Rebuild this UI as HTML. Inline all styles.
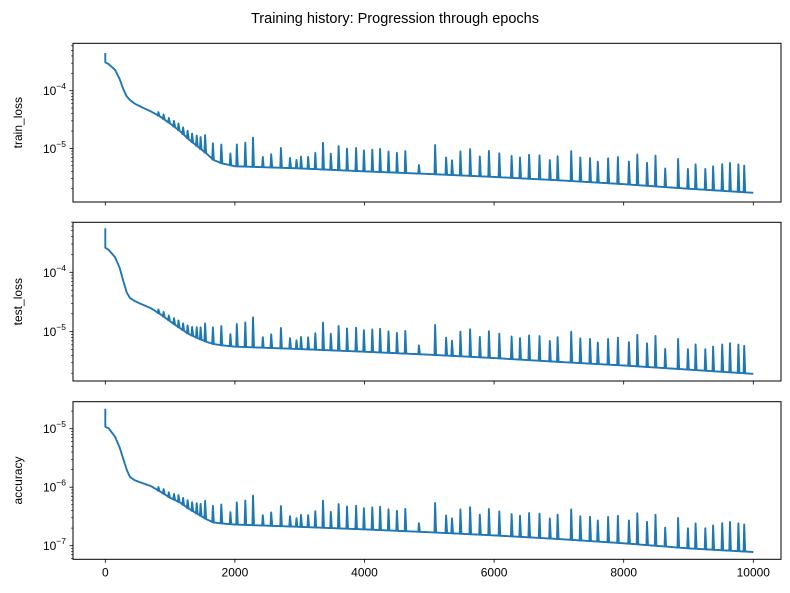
<!DOCTYPE html>
<html><head><meta charset="utf-8"><style>
body{margin:0;background:#fff;}
svg{display:block;font-family:"Liberation Sans",sans-serif;}
</style></head><body>
<svg id="chart" width="790" height="593" viewBox="0 0 790 593">
<text x="395" y="23" text-anchor="middle" font-size="14.5">Training history: Progression through epochs</text>
</svg>
<script>
const baseEpochs = [0,50,150,220,280,330,380,450,530,700,840,1000,1150,1300,1460,1570,1670,1800,2000,3000,4000,5000,6000,7000,8000,9000,10000];
const trainBase = [3.1e-4,2.9e-4,2.3e-4,1.6e-4,1.05e-4,8e-5,6.9e-5,6e-5,5.4e-5,4.4e-5,3.6e-5,2.7e-5,2e-5,1.4e-5,1e-5,8e-6,6.3e-6,5.5e-6,4.9e-6,4.5e-6,4e-6,3.6e-6,3.2e-6,2.8e-6,2.4e-6,2e-6,1.7e-6];
const testBase = [2.6e-4,2.4e-4,1.8e-4,1.2e-4,7e-5,4.6e-5,3.7e-5,3.3e-5,3e-5,2.5e-5,2e-5,1.5e-5,1.15e-5,9e-6,7.5e-6,6.7e-6,6.2e-6,5.9e-6,5.6e-6,5.1e-6,4.6e-6,4.1e-6,3.6e-6,3.1e-6,2.7e-6,2.3e-6,1.95e-6];
const accBase = [1.08e-5,1.02e-5,7.3e-6,4.8e-6,3.0e-6,2.0e-6,1.5e-6,1.32e-6,1.22e-6,1.05e-6,8.5e-7,6.6e-7,5.5e-7,4.2e-7,3.3e-7,2.8e-7,2.5e-7,2.4e-7,2.3e-7,2.1e-7,1.9e-7,1.7e-7,1.5e-7,1.3e-7,1.1e-7,9e-8,7.8e-8];
const initialPeaks = [4.5e-4,5.5e-4,2.2e-5];
const spikeEpochs = [820,900,980,1060,1130,1200,1270,1340,1410,1470,1540,1660,1790,1930,2030,2160,2280,2430,2560,2710,2850,2950,3020,3130,3240,3360,3480,3600,3730,3870,3990,4120,4240,4370,4500,4630,4840,5090,5260,5350,5480,5630,5780,5920,6080,6270,6400,6540,6700,6860,6980,7190,7330,7480,7600,7760,7910,8080,8210,8360,8490,8640,8840,8990,9110,9260,9380,9520,9640,9770,9860];
const spikeRatios = [1.15,1.2,1.2,1.25,1.3,1.3,1.35,1.4,1.5,1.6,2.0,1.9,2.1,1.6,2.4,2.6,3.2,1.5,1.7,2.2,1.5,1.4,1.6,1.6,1.9,2.9,1.9,2.6,2.4,2.5,2.3,2.4,2.5,2.3,2.2,2.4,1.4,3.2,2.0,1.8,2.6,2.9,2.2,2.8,2.6,2.4,2.3,2.6,2.6,2.2,2.6,3.3,2.6,2.6,2.3,2.7,2.9,2.5,3.4,2.5,3.4,2.1,3.2,2.2,2.7,2.3,2.6,2.9,3.1,3.0,2.9];
const yLabels = ["train_loss","test_loss","accuracy"];
const xTicks = [0,2000,4000,6000,8000,10000];

const svg = document.getElementById('chart');
const NS = 'http://www.w3.org/2000/svg';
const X0 = 73, X1 = 781;
function xs(e){ return 105.3 + e*0.0648; }
const panels = [
 {top:43.3,bot:202,ref:-4,refY:90.7,ppd:57.7,base:trainBase,name:'train-loss'},
 {top:222.3,bot:381,ref:-4,refY:272.3,ppd:59.4,base:testBase,name:'test-loss'},
 {top:401.7,bot:559.3,ref:-5,refY:428.7,ppd:58.5,base:accBase,name:'accuracy'}
];
function mk(tag, attrs){ const el=document.createElementNS(NS,tag); for(const k in attrs) el.setAttribute(k,attrs[k]); svg.appendChild(el); return el; }
function interp(arr,e){
  for(let i=0;i<baseEpochs.length-1;i++){
    if(e<=baseEpochs[i+1]){ const t=(e-baseEpochs[i])/(baseEpochs[i+1]-baseEpochs[i]);
      return Math.exp(Math.log(arr[i])*(1-t)+Math.log(arr[i+1])*t); }
  }
  return arr[arr.length-1];
}
panels.forEach((p,pi)=>{
  const ys = v => p.refY - (Math.log10(v)-p.ref)*p.ppd;
  let pts=[];
  pts.push([xs(0),ys(initialPeaks[pi])]);
  pts.push([xs(0),ys(p.base[0])]);
  let si=0;
  for(let e=10;e<=10000;e+=10){
    while(si<spikeEpochs.length && spikeEpochs[si]<=e){
      const se=spikeEpochs[si], b=interp(p.base,se);
      pts.push([xs(se-10),ys(b)]);
      pts.push([xs(se),ys(b*spikeRatios[si])]);
      pts.push([xs(se+15),ys(b)]);
      si++;
    }
    pts.push([xs(e),ys(interp(p.base,e))]);
  }
  const path = mk('path',{d:'M'+pts.map(q=>q[0].toFixed(1)+','+q[1].toFixed(1)).join('L'),fill:'none',stroke:'#1f77b4','stroke-width':1.9,'stroke-linejoin':'round'});
  
  
  const fr = mk('rect',{x:X0,y:p.top,width:X1-X0,height:p.bot-p.top,fill:'none',stroke:'#000','stroke-width':1});
  
  
  for(let d=-8; d<=-2; d++){
    for(let m=1;m<10;m++){
      const v=m*Math.pow(10,d), y=ys(v);
      if(y<p.top-0.5||y>p.bot+0.5) continue;
      mk('line',{x1:X0,x2:X0-(m===1?3.5:2),y1:y,y2:y,stroke:'#000','stroke-width':m===1?0.8:0.6});
      if(m===1){
        const t=mk('text',{x:X0-7,y:y+4.5,'text-anchor':'end','font-size':12});
        t.innerHTML='10<tspan dy="-6" font-size="8.5">−'+(-d)+'</tspan>';
        
        
      }
    }
  }
  xTicks.forEach(tv=>{
    const x=xs(tv);
    mk('line',{x1:x,x2:x,y1:p.bot,y2:p.bot+3.5,stroke:'#000','stroke-width':0.8});
    if(pi===2){
      const t=mk('text',{x:x,y:p.bot+17,'text-anchor':'middle','font-size':12});
      t.textContent=tv;
      
      
    }
  });
  const cy=(p.top+p.bot)/2;
  const lab=mk('text',{x:0,y:0,'text-anchor':'middle','font-size':12,transform:'translate(22,'+cy+') rotate(-90)'});
  lab.textContent=yLabels[pi];
  
  
});
</script>
</body></html>
